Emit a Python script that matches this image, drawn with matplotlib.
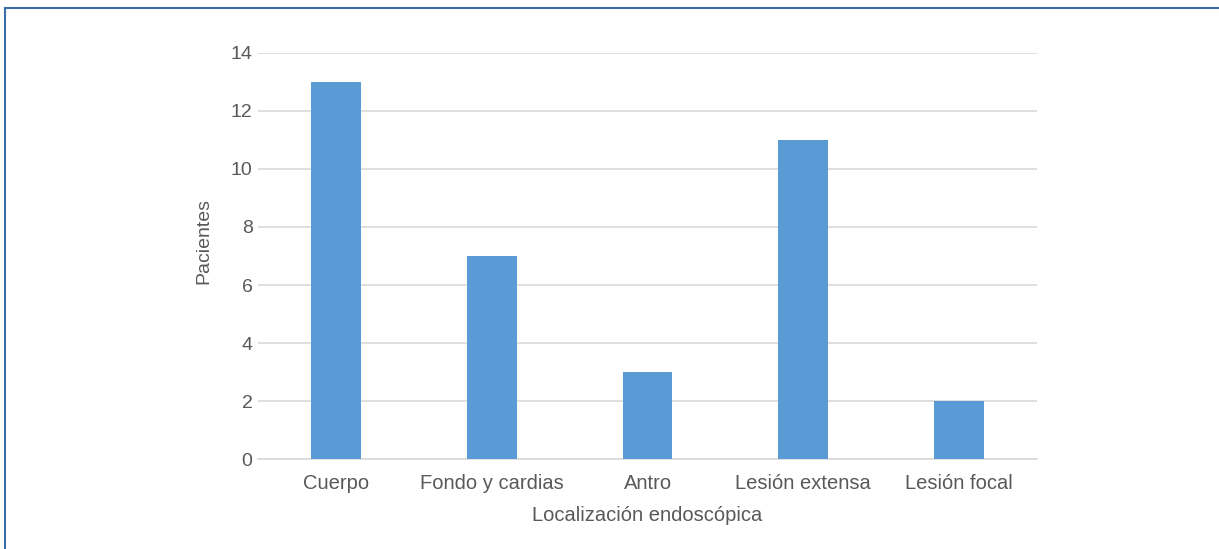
import matplotlib.pyplot as plt
from matplotlib.lines import Line2D

categories = ["Cuerpo", "Fondo y cardias", "Antro", "Lesión extensa", "Lesión focal"]
pacientes = [13, 7, 3, 11, 2]
y_ticks = [0, 2, 4, 6, 8, 10, 12, 14]

plt.rcParams["font.family"] = ["Liberation Sans", "DejaVu Sans"]
text_color = "#595959"

fig = plt.figure(figsize=(12.19, 5.49), dpi=100)
ax = fig.add_axes([0.2117, 0.1639, 0.8507 - 0.2117, 0.9035 - 0.1639])

x = range(len(categories))
ax.bar(x, pacientes, width=0.32, color="#5B9BD5", zorder=3)

ax.set_xlim(-0.5, len(categories) - 0.5)
ax.set_ylim(0, 14)
ax.set_yticks(y_ticks)
ax.set_xticks(list(x))
ax.set_xticklabels(categories)
ax.grid(axis="y", color="#D9D9D9", linewidth=1.2, zorder=0)
ax.tick_params(axis="y", length=0, labelsize=14, colors=text_color, pad=4)
ax.tick_params(axis="x", length=0, labelsize=14.5, colors=text_color, pad=11)
for side in ["top", "right", "left"]:
    ax.spines[side].set_visible(False)
ax.spines["bottom"].set_color("#D9D9D9")
ax.spines["bottom"].set_linewidth(1.2)

ax.set_ylabel("Pacientes", fontsize=14, color=text_color)
ax.yaxis.set_label_coords(-0.059, 0.538)
ax.set_xlabel("Localización endoscópica", fontsize=14.5, color=text_color, labelpad=9)

# frame lines (top and left only)
fig.add_artist(Line2D([5 / 1219, 1], [1 - 8 / 549, 1 - 8 / 549], color="#3A6EA5", linewidth=1.5, transform=fig.transFigure))
fig.add_artist(Line2D([5 / 1219, 5 / 1219], [0, 1 - 8 / 549], color="#3A6EA5", linewidth=1.5, transform=fig.transFigure))

fig.savefig("out.png", dpi=100)
